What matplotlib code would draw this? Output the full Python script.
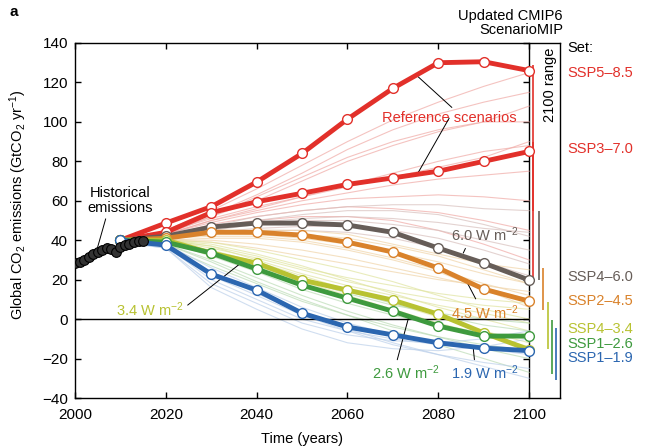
import numpy as np
import matplotlib
matplotlib.use("Agg")
import matplotlib.pyplot as plt

plt.rcParams['font.family'] = ['Liberation Sans', 'DejaVu Sans']
plt.rcParams['mathtext.fontset'] = 'custom'
plt.rcParams['mathtext.rm'] = 'Liberation Sans'
plt.rcParams['mathtext.it'] = 'Liberation Sans:italic'
plt.rcParams['font.size'] = 10.5

# historical emissions (GtCO2/yr)
hist_years = list(range(2000, 2016))
hist_vals = [28.5, 29, 30, 31.5, 33, 34, 35, 36, 35.5, 34, 36.5, 37.5, 38, 39, 39.5, 39.5]

years = [2010, 2020, 2030, 2040, 2050, 2060, 2070, 2080, 2090, 2100]

# marker scenarios
ssp585 = [40, 48.7, 57, 69.5, 84, 101.4, 117, 130, 130.5, 126]
ssp370 = [40, 44, 54, 59.5, 63.8, 68.3, 71.6, 75, 80, 85]
ssp460 = [40, 42, 46.7, 48.7, 48.7, 47.7, 44, 36, 28.4, 19.8]
ssp245 = [40, 41, 44.1, 44, 42.6, 39, 34, 25.9, 15.2, 9.1]
ssp434 = [40, 40, 33.5, 28.4, 19.8, 14.7, 9.6, 2.5, -7, -15.5]
ssp126 = [40, 39, 33.5, 25.4, 17.2, 10.6, 4, -3.5, -8.6, -8.6]
ssp119 = [40, 37.5, 22.8, 14.7, 3, -4, -8, -12, -14.7, -16]

# faint background scenarios, grouped by class
bg_ref = [
    [39, 45, 55, 66, 78, 90, 101, 110, 118, 125],
    [39, 44, 52, 60, 70, 80, 88, 95, 100, 108],
    [39, 44, 51, 57, 62, 67, 72, 77, 82, 90],
    [39, 43, 50, 55, 60, 64, 68, 71, 73, 75],
    [39, 43, 49, 54, 58, 61, 62, 63, 62, 60],
    [39, 42, 48, 52, 55, 57, 56, 54, 50, 45],
    [39, 43, 52, 62, 72, 82, 90, 96, 100, 100],
    [39, 42, 47, 50, 52, 52, 50, 45, 38, 30],
    [39, 44, 53, 63, 74, 86, 96, 104, 110, 115],
    [39, 43, 50, 56, 62, 68, 74, 80, 85, 88],
]
bg_60 = [
    [39, 42, 46, 50, 53, 55, 55, 53, 48, 42],
    [39, 42, 45, 48, 50, 50, 48, 45, 40, 35],
    [39, 41, 44, 46, 47, 47, 45, 41, 35, 28],
    [39, 42, 47, 52, 55, 57, 58, 58, 56, 55],
    [39, 41, 43, 45, 45, 44, 41, 36, 29, 22],
    [39, 42, 46, 49, 51, 52, 51, 49, 46, 44],
]
bg_45 = [
    [39, 41, 43, 44, 43, 41, 37, 32, 25, 18],
    [39, 41, 44, 45, 45, 43, 38, 33, 28, 25],
    [39, 40, 41, 41, 39, 35, 30, 24, 15, 6],
    [39, 41, 42, 42, 40, 36, 31, 25, 18, 12],
    [39, 40, 40, 38, 35, 31, 26, 21, 16, 10],
    [39, 41, 43, 43, 41, 38, 34, 29, 23, 18],
    [39, 40, 39, 36, 32, 28, 24, 20, 17, 14],
]
bg_34 = [
    [39, 40, 36, 31, 25, 19, 14, 10, 7, 5],
    [39, 40, 38, 33, 27, 20, 13, 6, 0, -6],
    [39, 39, 35, 29, 22, 15, 8, 1, -6, -12],
    [39, 40, 37, 32, 26, 21, 17, 13, 10, 8],
    [39, 39, 34, 27, 19, 12, 5, -2, -8, -14],
    [39, 40, 39, 35, 30, 25, 19, 12, 5, 0],
    [39, 40, 37, 30, 23, 17, 12, 7, 3, -2],
]
bg_26 = [
    [39, 39, 32, 24, 15, 8, 2, -3, -7, -10],
    [39, 38, 30, 21, 12, 4, -3, -9, -15, -20],
    [39, 39, 33, 27, 20, 13, 7, 3, 0, -2],
    [39, 38, 29, 19, 10, 2, -6, -13, -20, -27],
    [39, 39, 34, 28, 21, 14, 8, 2, -3, -6],
    [39, 37, 27, 18, 9, 2, -4, -9, -13, -16],
]
bg_19 = [
    [39, 37, 20, 10, 0, -6, -10, -13, -15, -17],
    [39, 38, 24, 13, 3, -5, -12, -18, -24, -30],
    [39, 36, 18, 8, -2, -8, -11, -12, -10, -6],
    [39, 37, 22, 12, 2, -6, -13, -18, -22, -25],
    [39, 36, 16, 5, -5, -12, -15, -16, -14, -10],
    [39, 38, 26, 16, 6, -2, -8, -12, -15, -18],
]

# 2100 range bars (low, high)
range_585 = (55, 129)
range_370 = (20, 90)
range_460 = (20, 55)
range_245 = (4.6, 26)
range_434 = (-15, 8.6)
range_126 = (-28, -0.5)
range_119 = (-31, -4.6)

labels = ['SSP5–8.5', 'SSP3–7.0', 'SSP4–6.0', 'SSP2–4.5', 'SSP4–3.4', 'SSP1–2.6', 'SSP1–1.9']
label_y = [124.7, 86.2, 21.3, 9.1, -5, -12.7, -19.8]

red = '#e2302a'
gray = '#665d58'
orange = '#d9822b'
yellow = '#b8c232'
green = '#3e9a3e'
blue = '#2b66b0'

fig = plt.figure(figsize=(6.53, 4.48), dpi=100)
ax = fig.add_axes([75/653, 50/448, 485/653, 355/448])

# background ensemble
for group, c in [(bg_ref, '#f0aaa6'), (bg_60, '#d8c0bd'), (bg_45, '#f0d4a8'),
                 (bg_34, '#e0e4a0'), (bg_26, '#bcdcb6'), (bg_19, '#bcd0ea')]:
    for s in group:
        ax.plot(years, s, color=c, lw=0.8, alpha=0.7, zorder=1)

ax.hlines(0, 2000, 2100, color='k', lw=1.0, zorder=2)

# marker scenarios
for s, c in [(ssp585, red), (ssp370, red), (ssp460, gray), (ssp245, orange),
             (ssp434, yellow), (ssp126, green), (ssp119, blue)]:
    ax.plot(years, s, color=c, lw=3.5, marker='o', ms=7, mfc='white',
            mec=c, mew=1.0, zorder=4, solid_capstyle='round')

ax.plot(hist_years, hist_vals, color='k', lw=1.5, marker='o', ms=7,
        mfc='#333333', mec='k', mew=0.8, zorder=5)

# 2100 range bars
bar_x = [2100.9, 2100.9, 2102.2, 2103.1, 2104.2, 2105.1, 2105.9]
bar_c = [red, red, gray, orange, yellow, green, blue]
for xx, r, c in zip(bar_x, [range_585, range_370, range_460, range_245,
                            range_434, range_126, range_119], bar_c):
    ax.vlines(xx, r[0], r[1], color=c, lw=1.2, zorder=3)

ax.set_xlim(2000, 2106.8)
ax.set_ylim(-40, 140)
ax.set_xticks(range(2000, 2101, 20))
ax.set_yticks(range(-40, 141, 20))
ax.set_yticklabels([str(v).replace('-', '−') for v in range(-40, 141, 20)])
ax.tick_params(direction='in', top=True, right=False, length=4, width=1,
               labelsize=11)
ax.tick_params(axis='x', pad=7)
ax.tick_params(axis='y', pad=5)
for sp in ax.spines.values():
    sp.set_linewidth(1.0)

# vertical line at 2100 with ticks
sec = ax.secondary_yaxis((2100 - 2000) / 106.8)
sec.set_yticks(range(-20, 141, 20))
sec.tick_params(direction='in', length=4, width=1, labelright=False, labelleft=False)
for sp in sec.spines.values():
    sp.set_linewidth(1.0)

ax.set_ylabel('Global CO$_2$ emissions (GtCO$_2$ yr$^{-1}$)', fontsize=10.5)
ax.yaxis.set_label_coords(-(75 - 29) / 485, (398 - 205) / 355)
ax.set_xlabel('Time (years)', fontsize=10.5)
ax.xaxis.set_label_coords((302 - 75) / 485, -0.095)

# right side labels
for t, yv, c in zip(labels, label_y, [red, red, gray, orange, yellow, green, blue]):
    ax.text(2108.4, yv, t, color=c, fontsize=10.5, va='center', ha='left', clip_on=False)
ax.text(2108.4, 137.5, 'Set:', fontsize=10.5, va='center', ha='left')
ax.text(2104.6, 119, '2100 range', rotation=90, fontsize=10.5, va='center', ha='center')
fig.text(563/653, 1 - 23/448, 'Updated CMIP6\nScenarioMIP', ha='right', va='center',
         fontsize=10.5, linespacing=1.05)
fig.text(10/653, 1 - 12/448, 'a', fontsize=11, fontweight='bold', va='center')

line = dict(arrowstyle='-', color='k', lw=0.7, shrinkA=1, shrinkB=0)

ax.annotate('Historical\nemissions', xy=(2004.8, 35), xytext=(2009.9, 60.3),
            ha='center', va='center', fontsize=10.5, linespacing=1.1,
            arrowprops=dict(line, relpos=(0.3, 0)))
ax.annotate('Reference scenarios', xy=(2075.5, 123), xytext=(2082.4, 101.9),
            ha='center', va='center', color=red, fontsize=10.5,
            arrowprops=dict(line, relpos=(0.55, 1)))
ax.annotate('', xy=(2075.5, 74), xytext=(2082.4, 101.9),
            arrowprops=dict(line, shrinkA=0))
ax.annotate('3.4 W m$^{-2}$', xy=(2037.4, 30), xytext=(2016.5, 4.6),
            ha='center', va='center', color=yellow, fontsize=10.5,
            arrowprops=dict(line, relpos=(1.0, 0.6)))
ax.annotate('6.0 W m$^{-2}$', xy=(2085.5, 33.5), xytext=(2090.3, 42.6),
            ha='center', va='center', color=gray, fontsize=10.5,
            arrowprops=dict(line, relpos=(0.25, 0.1)))
ax.annotate('4.5 W m$^{-2}$', xy=(2086.3, 18.8), xytext=(2090.3, 3.5),
            ha='center', va='center', color=orange, fontsize=10.5,
            arrowprops=dict(line, relpos=(0.4, 0.95)))
ax.annotate('2.6 W m$^{-2}$', xy=(2073.6, 2), xytext=(2072.9, -27.4),
            ha='center', va='center', color=green, fontsize=10.5,
            arrowprops=dict(line, relpos=(0.35, 0.95)))
ax.annotate('1.9 W m$^{-2}$', xy=(2087.7, -14.7), xytext=(2090.3, -27.4),
            ha='center', va='center', color=blue, fontsize=10.5,
            arrowprops=dict(line, relpos=(0.35, 0.95)))

fig.savefig('out.png', dpi=100)
